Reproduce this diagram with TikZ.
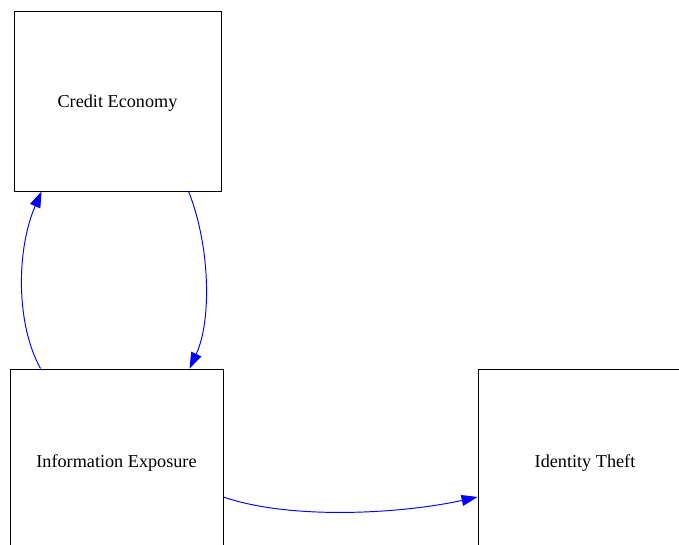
\documentclass[tikz,border=0pt]{standalone}
\usepackage{fontspec}
\setmainfont{Liberation Serif}
\usetikzlibrary{arrows.meta,calc}
\begin{document}
\begin{tikzpicture}[x=1pt,y=-1pt,
  box/.style={draw=black,line width=0.9pt,rectangle,inner sep=0pt,
    text height=13pt,text depth=0pt,
    font=\fontsize{18.2}{22}\selectfont},
  link/.style={draw=blue,line width=0.95pt,-{Triangle[length=16pt,width=11pt]}},
]
\useasboundingbox (0,0) rectangle (679,544);
\clip (0,0) rectangle (679,544);

% the three factors
\node[box,minimum width=207pt,minimum height=180pt] (ce) at (117.5,101) {Credit Economy};
\node[box,minimum width=213pt,minimum height=184pt] (ie) at (116.5,461) {Information Exposure};
\node[box,minimum width=214pt,minimum height=184pt] (it) at (585,461) {Identity Theft};

% feedback between credit economy and information exposure
\draw[link] ($(ie.north west)+(31,0)$) .. controls (16,325) and (16,250) .. ($(ce.south west)+(28,0)$);
\draw[link] ($(ce.south west)+(175,0)$) .. controls (210,245) and (212,320) .. ($(ie.north west)+(180,0)$);

% exposure leads to identity theft
\draw[link] ($(ie.east)+(0,36)$) .. controls (290,520) and (400,514) .. ($(it.west)+(0,36)$);
\end{tikzpicture}
\end{document}
